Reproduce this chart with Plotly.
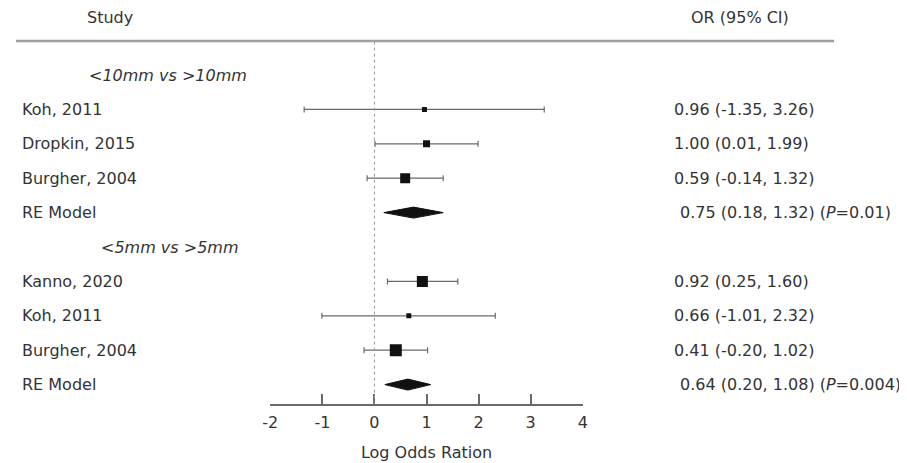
import plotly.graph_objects as go

# ---- data ----
groups = ["<10mm vs >10mm", "<5mm vs >5mm"]
g1_studies = ["Koh, 2011", "Dropkin, 2015", "Burgher, 2004"]
g1_est = [0.96, 1.00, 0.59]
g1_lo = [-1.35, 0.01, -0.14]
g1_hi = [3.26, 1.99, 1.32]
g1_re = [0.75, 0.18, 1.32]
g1_p = "0.01"

g2_studies = ["Kanno, 2020", "Koh, 2011", "Burgher, 2004"]
g2_est = [0.92, 0.66, 0.41]
g2_lo = [0.25, -1.01, -0.20]
g2_hi = [1.60, 2.32, 1.02]
g2_re = [0.64, 0.20, 1.08]
g2_p = "0.004"

tick_vals = [-2, -1, 0, 1, 2, 3, 4]
tick_text = ["-2", "-1", "0", "1", "2", "3", "4"]

# ---- style ----
g1_sizes = [5, 7, 10]
g2_sizes = [11, 5, 12]
W, H = 907, 463
OFF = 8  # page body margin
FONT = "DejaVu Sans"
TXT = "#333333"
LINE = "#6a6a6a"
fs = 16

fig = go.Figure()
ann = []

def px(x):
    return (x - OFF) / W

def tfont():
    return dict(size=fs, color=TXT, family=FONT)

row = 0
blocks = [
    (groups[0], g1_studies, g1_est, g1_lo, g1_hi, g1_re, g1_p, g1_sizes, 80),
    (groups[1], g2_studies, g2_est, g2_lo, g2_hi, g2_re, g2_p, g2_sizes, 92),
]
for gname, studies, est, lo, hi, re, p, sizes, gx in blocks:
    ann.append(dict(x=px(gx), y=row, xref="paper", yref="y", xanchor="left",
                    text="<i>" + gname.replace("<", "&lt;").replace(">", "&gt;") + "</i>",
                    showarrow=False, font=tfont()))
    row += 1
    rows = []
    for s, e, l, h in zip(studies, est, lo, hi):
        ann.append(dict(x=px(12), y=row, xref="paper", yref="y", xanchor="left",
                        text=s, showarrow=False, font=tfont()))
        ann.append(dict(x=px(674), y=row, xref="paper", yref="y", xanchor="left",
                        text=f"{e:.2f} ({l:.2f}, {h:.2f})", showarrow=False, font=tfont()))
        rows.append(row)
        row += 1
    fig.add_trace(go.Scatter(
        x=est, y=rows, mode="markers",
        marker=dict(symbol="square", size=sizes, color="#111111", opacity=1,
                    line=dict(width=0)),
        error_x=dict(type="data", symmetric=False,
                     array=[h - e for e, h in zip(est, hi)],
                     arrayminus=[e - l for e, l in zip(est, lo)],
                     color=LINE, thickness=1.2, width=3),
        showlegend=False, hoverinfo="skip"))
    # RE diamond
    dh = 0.16
    fig.add_trace(go.Scatter(
        x=[re[1], re[0], re[2], re[0], re[1]],
        y=[row, row - dh, row, row + dh, row],
        mode="lines", fill="toself", fillcolor="#111111",
        line=dict(color="#111111", width=1), showlegend=False, hoverinfo="skip"))
    ann.append(dict(x=px(12), y=row, xref="paper", yref="y", xanchor="left",
                    text="RE Model", showarrow=False, font=tfont()))
    ann.append(dict(x=px(680), y=row, xref="paper", yref="y", xanchor="left",
                    text=f"{re[0]:.2f} ({re[1]:.2f}, {re[2]:.2f}) (<i>P</i>={p})",
                    showarrow=False, font=tfont()))
    row += 1

# headers
ann.append(dict(x=px(78), y=-1.66, xref="paper", yref="y", xanchor="left",
                text="Study", showarrow=False, font=tfont()))
ann.append(dict(x=px(743), y=-1.66, xref="paper", yref="y", xanchor="center",
                text="OR (95% CI)", showarrow=False, font=tfont()))

shapes = [
    dict(type="line", xref="paper", yref="y", x0=px(8), x1=px(838), y0=-0.99, y1=-0.99,
         line=dict(color="#a0a0a0", width=2.5)),
    dict(type="line", xref="x", yref="y", x0=0, x1=0, y0=-0.97, y1=9.56,
         line=dict(color="#999999", width=1, dash="dot")),
]

y_top = -(75 - OFF) / 34.4
y_bot = 9.564

fig.update_layout(
    width=W, height=H,
    margin=dict(l=0, r=0, t=0, b=H - (404 - OFF)),
    plot_bgcolor="white", paper_bgcolor="white",
    font=dict(family=FONT, size=fs, color=TXT),
    annotations=ann, shapes=shapes,
    xaxis=dict(domain=[(266 - OFF) / W, (583 - OFF) / W], range=[-2, 4],
               tickvals=tick_vals, ticktext=tick_text,
               ticks="inside", ticklen=10, tickwidth=1.5, tickcolor=LINE,
               ticklabelstandoff=3,
               showline=True, linecolor=LINE, linewidth=1.5, showgrid=False,
               zeroline=False, tickfont=tfont(),
               title=dict(text="Log Odds Ration", font=tfont(), standoff=16),
               fixedrange=True),
    yaxis=dict(range=[y_bot, y_top], visible=False, showgrid=False, zeroline=False,
               fixedrange=True),
)

fig.write_html("out.html")
